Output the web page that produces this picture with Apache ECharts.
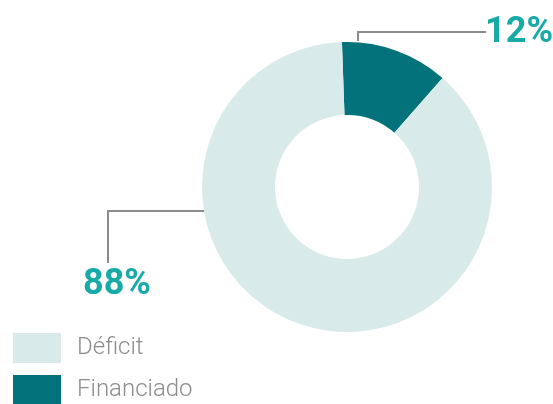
<!DOCTYPE html>
<html>
<head>
<meta charset="utf-8">
<script src="https://cdn.jsdelivr.net/npm/echarts@6/dist/echarts.min.js"></script>
<style>
    html, body { margin: 0; padding: 0; background: #fff; }
    #main { width: 553px; height: 404px; }
</style>
</head>
<body>
<div id="main"></div>
<script>
// datos del gráfico
var categories = ['Financiado', 'Déficit'];
var values = [12, 88];
var legendOrder = ['Déficit', 'Financiado'];
var colors = ['#03727a', '#d9eaea'];

// posiciones de las etiquetas (por índice)
var labelPos = [
    {x: 553, y: 33, align: 'right', line: [[358, 41], [358, 32], [486, 32]]},
    {x: 117, y: 285, align: 'center', line: [[218, 214], [218, 211], [108, 211], [108, 263]]}
];

var myChart = echarts.init(document.getElementById('main'));

var data = [];
for (var i = 0; i < categories.length; i++) {
    data.push({name: categories[i], value: values[i], itemStyle: {color: colors[i]}});
}

var option = {
    animation: false,
    legend: {
        orient: 'vertical',
        left: 13,
        top: 333,
        height: 100,
        padding: 0,
        itemWidth: 48,
        itemHeight: 30,
        itemGap: 12,
        icon: 'rect',
        data: legendOrder,
        selectedMode: false,
        textStyle: {
            fontFamily: 'Roboto',
            fontWeight: 300,
            fontSize: 24,
            color: '#8c8c8c',
            padding: [0, 0, 0, 11]
        }
    },
    series: [
        {
            type: 'pie',
            center: [347, 187],
            radius: [72, 145],
            startAngle: 92,
            silent: true,
            avoidLabelOverlap: false,
            data: data,
            label: {
                show: true,
                formatter: '{d}%',
                fontFamily: 'Roboto',
                fontWeight: 'bold',
                fontSize: 36,
                letterSpacing: -2,
                color: '#17aaa6'
            },
            labelLine: {
                show: true,
                lineStyle: {color: '#8c8c8c', width: 2}
            },
            labelLayout: function (params) {
                var p = labelPos[params.dataIndex];
                return {
                    x: p.x,
                    y: p.y,
                    align: p.align,
                    verticalAlign: 'middle',
                    labelLinePoints: p.line
                };
            }
        }
    ]
};
myChart.setOption(option);
</script>
</body>
</html>
